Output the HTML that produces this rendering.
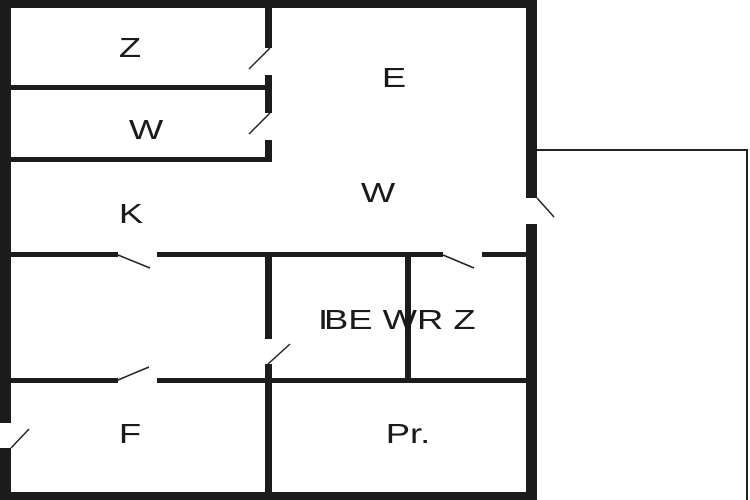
<!DOCTYPE html>
<html><head><meta charset="utf-8"><style>
html,body{margin:0;padding:0;background:#fff;width:750px;height:500px;overflow:hidden}
svg{display:block}
text{font-family:"Liberation Sans",sans-serif;fill:#1a1a1a}
</style></head><body>
<svg width="750" height="500" viewBox="0 0 750 500" xmlns="http://www.w3.org/2000/svg">
<rect width="750" height="500" fill="#fff"/>
<polyline points="537,150 747,150 747,500" fill="none" stroke="#222" stroke-width="2"/>
<g fill="#1c1c1c">
<rect x="0" y="0" width="537" height="8"/>
<rect x="0" y="0" width="11" height="423"/>
<rect x="0" y="448" width="11" height="52"/>
<rect x="0" y="492" width="537" height="8"/>
<rect x="526" y="0" width="11" height="198"/>
<rect x="526" y="224" width="11" height="276"/>
<rect x="265" y="0" width="7" height="48"/>
<rect x="265" y="75" width="7" height="38"/>
<rect x="265" y="140" width="7" height="22"/>
<rect x="11" y="85" width="261" height="5"/>
<rect x="11" y="157" width="261" height="5"/>
<rect x="11" y="252" width="107" height="5"/>
<rect x="157" y="252" width="286" height="5"/>
<rect x="482" y="252" width="44" height="5"/>
<rect x="265" y="255" width="7" height="84"/>
<rect x="265" y="364" width="7" height="130"/>
<rect x="405" y="255" width="6" height="125"/>
<rect x="11" y="378" width="107" height="5"/>
<rect x="157" y="378" width="369" height="5"/>
</g>
<g stroke="#222" stroke-width="1.5">
<line x1="270" y1="48" x2="249" y2="69"/>
<line x1="270" y1="113" x2="249" y2="134"/>
<line x1="118" y1="255" x2="150" y2="268"/>
<line x1="443" y1="255" x2="474" y2="268"/>
<line x1="268" y1="364" x2="290" y2="344"/>
<line x1="118" y1="380" x2="149" y2="367"/>
<line x1="11" y1="448" x2="29" y2="429"/>
<line x1="537" y1="198" x2="554" y2="217"/>
</g>
<g font-size="28" text-anchor="middle">
<text transform="translate(130,57) scale(1.3,1)">Z</text>
<text transform="translate(146,139) scale(1.3,1)">W</text>
<text transform="translate(131,223) scale(1.3,1)">K</text>
<text transform="translate(394,87) scale(1.3,1)">E</text>
<text transform="translate(378,202) scale(1.3,1)">W</text>
<text transform="translate(130,443) scale(1.3,1)">F</text>
<text transform="translate(408,443) scale(1.3,1)">Pr.</text>
</g>
<g font-size="28">
<text transform="translate(318,329) scale(1.3,1)">I</text>
<text transform="translate(324,329) scale(1.3,1)">BE WR Z</text>
</g>
</svg>
</body></html>
